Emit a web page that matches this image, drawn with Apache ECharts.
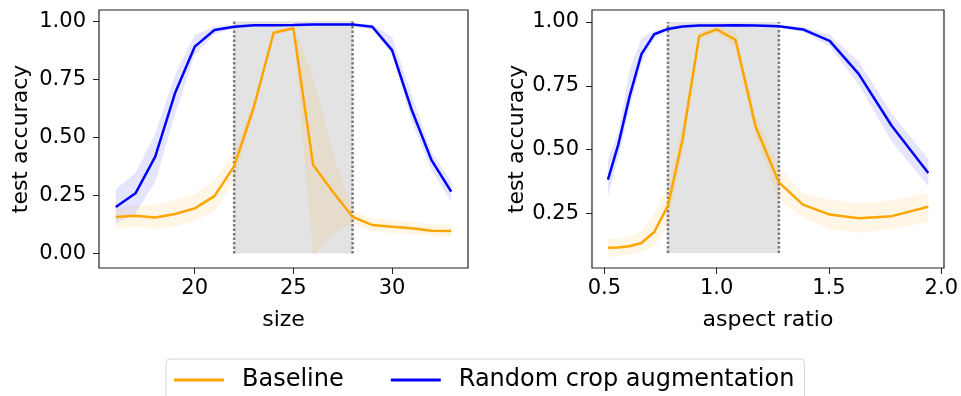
<!DOCTYPE html>
<html>
<head>
<meta charset="utf-8">
<script src="https://cdn.jsdelivr.net/npm/echarts@6/dist/echarts.min.js"></script>
<style>html,body{margin:0;padding:0;background:#fff}#c{width:961px;height:396px}</style>
</head>
<body>
<div id="c"></div>
<script>
// ---- data ----
const sizes = [16,17,18,19,20,21,22,23,24,25,26,27,28,29,30,31,32,33];
const sizeBase   = [0.157,0.162,0.155,0.170,0.194,0.247,0.376,0.632,0.951,0.970,0.381,0.266,0.158,0.122,0.115,0.108,0.098,0.096];
const sizeBaseLo = [0.106,0.118,0.105,0.115,0.141,0.180,0.312,0.600,0.940,0.962,-0.015,0.085,0.132,0.093,0.088,0.083,0.075,0.071];
const sizeBaseHi = [0.201,0.204,0.209,0.230,0.256,0.316,0.440,0.660,0.962,0.978,0.761,0.431,0.187,0.151,0.145,0.135,0.125,0.124];
const sizeRand   = [0.200,0.259,0.417,0.690,0.891,0.963,0.977,0.983,0.983,0.984,0.987,0.987,0.986,0.977,0.876,0.618,0.402,0.266];
const sizeRandLo = [0.129,0.172,0.309,0.596,0.855,0.945,0.970,0.978,0.978,0.979,0.982,0.982,0.981,0.965,0.862,0.567,0.359,0.223];
const sizeRandHi = [0.276,0.348,0.517,0.769,0.941,0.978,0.985,0.988,0.988,0.989,0.992,0.992,0.991,0.985,0.934,0.682,0.438,0.309];

const ratios = [0.516,0.562,0.612,0.665,0.722,0.783,0.848,0.922,1.0,1.084,1.173,1.277,1.384,1.503,1.632,1.779,1.942];
const ratioBase   = [0.116,0.117,0.122,0.135,0.178,0.281,0.539,0.945,0.971,0.930,0.591,0.372,0.285,0.246,0.232,0.240,0.277];
const ratioBaseLo = [0.081,0.083,0.090,0.100,0.122,0.200,0.480,0.930,0.958,0.900,0.550,0.305,0.233,0.190,0.175,0.190,0.216];
const ratioBaseHi = [0.151,0.151,0.160,0.180,0.246,0.360,0.600,0.960,0.985,0.965,0.640,0.435,0.330,0.305,0.290,0.300,0.333];
const ratioRand   = [0.383,0.520,0.708,0.874,0.952,0.973,0.982,0.986,0.986,0.987,0.986,0.983,0.971,0.926,0.797,0.594,0.409];
const ratioRandLo = [0.318,0.470,0.660,0.840,0.936,0.965,0.977,0.982,0.982,0.983,0.982,0.978,0.962,0.905,0.754,0.532,0.357];
const ratioRandHi = [0.460,0.565,0.810,0.936,0.966,0.981,0.987,0.990,0.990,0.991,0.990,0.988,0.980,0.950,0.845,0.643,0.464];

const sizeRegion = [22, 28];
const sizeRegionSpan = [0, 1];
const ratioRegion = [0.783, 1.277];
const ratioRegionSpan = [0.096, 1];
const sizeTicks = [20, 25, 30];
const ratioTicks = [0.5, 1.0, 1.5, 2.0];
const accTicksLeft = [0, 0.25, 0.5, 0.75, 1.0];
const accTicksRight = [0.25, 0.5, 0.75, 1.0];
const seriesNames = ['Baseline', 'Random crop augmentation'];

// ---- styling ----
const ORANGE = '#ffa500', BLUE = '#0000ff';
const FONT = 'DejaVu Sans';
const AX = '#222';

function bandSeries(name, xs, lo, hi, fill, idx) {
  return {
    type: 'custom', name: name + ' band', xAxisIndex: idx, yAxisIndex: idx, silent: true, z: 2,
    data: xs.map((x, i) => [x, lo[i], hi[i]]),
    encode: { x: 0, y: [1, 2] },
    renderItem: function (params, api) {
      if (params.dataIndex !== 0) return null;
      const pts = [];
      for (let i = 0; i < xs.length; i++) pts.push(api.coord([xs[i], hi[i]]));
      for (let i = xs.length - 1; i >= 0; i--) pts.push(api.coord([xs[i], lo[i]]));
      return { type: 'polygon', shape: { points: pts }, style: { fill: fill } };
    }
  };
}
function lineSeries(name, xs, ys, color, idx) {
  return {
    type: 'line', name: name, xAxisIndex: idx, yAxisIndex: idx, z: 4,
    data: xs.map((x, i) => [x, ys[i]]), symbol: 'none', showSymbol: false,
    lineStyle: { color: color, width: 2.5 }, itemStyle: { color: color }, silent: true
  };
}
function regionSeries(region, span, idx) {
  return {
    type: 'line', name: 'region' + idx, xAxisIndex: idx, yAxisIndex: idx, data: [], z: 1, silent: true,
    markArea: { silent: true, itemStyle: { color: 'rgba(128,128,128,0.22)' },
      data: [[{ coord: [region[0], span[0]] }, { coord: [region[1], span[1]] }]] }
  };
}
function dottedSeries(x, span, idx) {
  return {
    type: 'line', name: 'edge', xAxisIndex: idx, yAxisIndex: idx, z: 3, silent: true,
    data: span.map(v => [x, v]), symbol: 'none', showSymbol: false,
    lineStyle: { color: '#7a7a7a', width: 2.5, type: [2.5, 2] }
  };
}
function xAxis(idx, min, max, ticks, name, fmt) {
  return {
    type: 'value', gridIndex: idx, min: min, max: max, splitLine: { show: false },
    axisLine: { show: false, onZero: false },
    axisTick: { show: true, length: 6, lineStyle: { color: AX, width: 1 }, customValues: ticks },
    axisLabel: { customValues: ticks, fontSize: 21, fontFamily: FONT, color: '#000', margin: 10, formatter: fmt },
    name: name, nameLocation: 'middle', nameGap: 41,
    nameTextStyle: { fontSize: 22, fontFamily: FONT, color: '#000' }
  };
}
function yAxis(idx, min, max, ticks, gap) {
  return {
    type: 'value', gridIndex: idx, min: min, max: max, splitLine: { show: false },
    axisLine: { show: false, onZero: false },
    axisTick: { show: true, length: 6, lineStyle: { color: AX, width: 1 }, customValues: ticks },
    axisLabel: { customValues: ticks, fontSize: 21, fontFamily: FONT, color: '#000', margin: 13,
      formatter: v => v.toFixed(2) },
    name: 'test accuracy', nameLocation: 'middle', nameGap: gap, nameRotate: 90,
    nameTextStyle: { fontSize: 22, fontFamily: FONT, color: '#000' }
  };
}

const chart = echarts.init(document.getElementById('c'), null, { renderer: 'canvas' });
chart.setOption({
  animation: false,
  backgroundColor: '#fff',
  textStyle: { fontFamily: FONT },
  grid: [
    { left: 99, top: 10, width: 369, height: 258, show: true, borderColor: AX, borderWidth: 1.2, backgroundColor: 'transparent' },
    { left: 592, top: 10, width: 354, height: 258, show: true, borderColor: AX, borderWidth: 1.2, backgroundColor: 'transparent' }
  ],
  xAxis: [
    xAxis(0, 15.15, 33.85, sizeTicks, 'size', v => String(v)),
    xAxis(1, 0.445, 2.012, ratioTicks, 'aspect ratio', v => v.toFixed(1))
  ],
  yAxis: [
    yAxis(0, -0.063, 1.049, accTicksLeft, 67),
    yAxis(1, 0.037, 1.047, accTicksRight, 63)
  ],
  legend: {
    data: seriesNames.map(n => ({ name: n, icon: 'rect' })),
    left: 166, top: 359, orient: 'horizontal',
    padding: [9, 10, 9, 8], itemWidth: 50, itemHeight: 3, itemGap: 47,
    backgroundColor: 'rgba(255,255,255,0.8)', borderColor: '#d4d4d4', borderWidth: 1, borderRadius: 4,
    textStyle: { fontSize: 24, fontFamily: FONT, color: '#000', padding: [0, 0, 0, 13] }
  },
  series: [
    regionSeries(sizeRegion, sizeRegionSpan, 0),
    regionSeries(ratioRegion, ratioRegionSpan, 1),
    dottedSeries(sizeRegion[0], sizeRegionSpan, 0),
    dottedSeries(sizeRegion[1], sizeRegionSpan, 0),
    dottedSeries(ratioRegion[0], ratioRegionSpan, 1),
    dottedSeries(ratioRegion[1], ratioRegionSpan, 1),
    bandSeries(seriesNames[0], sizes, sizeBaseLo, sizeBaseHi, 'rgba(255,165,0,0.1)', 0),
    bandSeries(seriesNames[1], sizes, sizeRandLo, sizeRandHi, 'rgba(0,0,255,0.1)', 0),
    bandSeries(seriesNames[0], ratios, ratioBaseLo, ratioBaseHi, 'rgba(255,165,0,0.1)', 1),
    bandSeries(seriesNames[1], ratios, ratioRandLo, ratioRandHi, 'rgba(0,0,255,0.1)', 1),
    lineSeries(seriesNames[0], sizes, sizeBase, ORANGE, 0),
    lineSeries(seriesNames[1], sizes, sizeRand, BLUE, 0),
    lineSeries(seriesNames[0], ratios, ratioBase, ORANGE, 1),
    lineSeries(seriesNames[1], ratios, ratioRand, BLUE, 1)
  ]
});
</script>
</body>
</html>
